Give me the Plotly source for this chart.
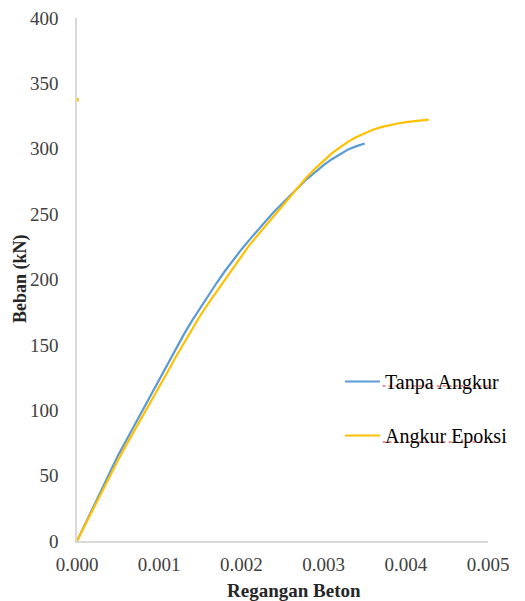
import plotly.graph_objects as go

# Tanpa Angkur (blue)
strain_tanpa = [0.0000, 0.0001, 0.0002, 0.0003, 0.0004, 0.0005, 0.0006, 0.0007, 0.0008, 0.0009,
                0.0010, 0.0011, 0.0012, 0.0013, 0.0014, 0.0015, 0.0016, 0.0017, 0.0018, 0.0019,
                0.0020, 0.0021, 0.0022, 0.0023, 0.0024, 0.0025, 0.0026, 0.0027, 0.0028, 0.0029,
                0.0030, 0.0031, 0.0032, 0.0033, 0.0034, 0.0035]
load_tanpa = [0, 13, 26.5, 40, 53, 65.5, 77, 88.5, 100, 112,
              124, 135.5, 147, 158, 168.5, 178.5, 188, 197.5, 206.5, 215,
              223, 230.5, 238, 245, 252, 258.5, 265, 271, 277, 282.5,
              287.5, 292, 296, 299.5, 302, 304]

# Angkur Epoksi (yellow)
strain_epoksi = [0.0000, 0.0001, 0.0002, 0.0003, 0.0004, 0.0005, 0.0006, 0.0007, 0.0008, 0.0009,
                 0.0010, 0.0011, 0.0012, 0.0013, 0.0014, 0.0015, 0.0016, 0.0017, 0.0018, 0.0019,
                 0.0020, 0.0021, 0.0022, 0.0023, 0.0024, 0.0025, 0.0026, 0.0027, 0.0028, 0.0029,
                 0.0030, 0.0031, 0.0032, 0.0033, 0.0034, 0.0035, 0.0036, 0.0037, 0.0038, 0.0039,
                 0.0040, 0.0041, 0.0042, 0.00428]
load_epoksi = [0, 12.5, 25, 37.5, 50, 62, 73.5, 84.5, 95, 106,
               117.5, 129, 140.5, 151.5, 162, 172.5, 182, 191, 200, 209,
               218, 226.5, 234, 241.5, 249, 256, 263.5, 271, 278.5, 285,
               291, 296.5, 301, 305.5, 309, 312, 314.5, 316.5, 318, 319.3,
               320.3, 321.2, 322, 322.3]

# stray point near the y axis
stray_x = [0.0]
stray_y = [337.5]

x_ticks = [0.000, 0.001, 0.002, 0.003, 0.004, 0.005]
x_tick_text = ["0.000", "0.001", "0.002", "0.003", "0.004", "0.005"]
y_ticks = [0, 50, 100, 150, 200, 250, 300, 350, 400]

BLUE = "#5B9BD5"
YELLOW = "#FFC000"
FONT = "Liberation Serif, 'Times New Roman', Times, serif"

# full-window figure (page margin removed by post_script)
W, H = 525, 601
ML, MR, MT, MB = 77, 23, 18, 60
PW, PH = W - ML - MR, H - MT - MB


def px(sx):
    """screen x pixel -> paper fraction"""
    return (sx - ML) / PW


def py(sy):
    """screen y pixel -> paper fraction"""
    return (H - MB - sy) / PH


fig = go.Figure()
fig.add_trace(go.Scatter(x=strain_tanpa, y=load_tanpa, mode="lines", name="Tanpa Angkur",
                         line=dict(color=BLUE, width=2.2), legendgroup="a"))
fig.add_trace(go.Scatter(x=strain_epoksi, y=load_epoksi, mode="lines", name="Angkur Epoksi",
                         line=dict(color=YELLOW, width=2.2), legendgroup="b"))
fig.add_trace(go.Scatter(x=stray_x, y=stray_y, mode="markers", showlegend=False,
                         marker=dict(color=YELLOW, size=3.5, symbol="square"), cliponaxis=False))

shapes = []
# spell-check style red dotted underlines under legend texts
for (x0, x1, yy) in [(393, 506, 386), (393, 512, 442)]:
    shapes.append(dict(type="line", xref="paper", yref="paper",
                       x0=px(x0), x1=px(x1), y0=py(yy), y1=py(yy),
                       line=dict(color="#E03030", width=1.2, dash="dot")))

fig.update_layout(
    width=W, height=H, autosize=False,
    margin=dict(l=ML, r=MR, t=MT, b=MB),
    paper_bgcolor="white", plot_bgcolor="white",
    font=dict(family=FONT, size=19, color="#404040"),
    showlegend=True,
    legend=dict(x=px(349), y=py(362), xanchor="left", yanchor="top",
                font=dict(family=FONT, size=20, color="#000000"),
                itemwidth=35, tracegroupgap=25, bgcolor="rgba(0,0,0,0)"),
    xaxis=dict(range=[0, 0.005], tickvals=x_ticks, ticktext=x_tick_text, automargin=False,
               showgrid=False, zeroline=False, showline=True, linecolor="#D9D9D9", linewidth=1.5,
               ticks="", ticklabelstandoff=5,
               tickfont=dict(family=FONT, size=19, color="#404040")),
    yaxis=dict(range=[0, 400], tickvals=y_ticks, automargin=False,
               showgrid=False, zeroline=False, showline=True, linecolor="#D9D9D9", linewidth=1.5,
               ticks="", ticklabelstandoff=13,
               tickfont=dict(family=FONT, size=19, color="#404040")),
    shapes=shapes,
    annotations=[
        dict(text="<b>Regangan Beton</b>", xref="paper", yref="paper",
             x=px(301), y=py(590), xanchor="center", yanchor="middle", showarrow=False,
             font=dict(family=FONT, size=19, color="#262626")),
        dict(text="<b>Beban (kN)</b>", xref="paper", yref="paper", textangle=-90,
             x=px(18), y=py(278), xanchor="center", yanchor="middle", showarrow=False,
             font=dict(family=FONT, size=18, color="#262626")),
    ],
)

POST = ("document.body.style.margin='0';"
        "document.documentElement.style.overflow='hidden';")

fig.write_html("out.html", config={"responsive": False, "displayModeBar": False},
               post_script=POST)
